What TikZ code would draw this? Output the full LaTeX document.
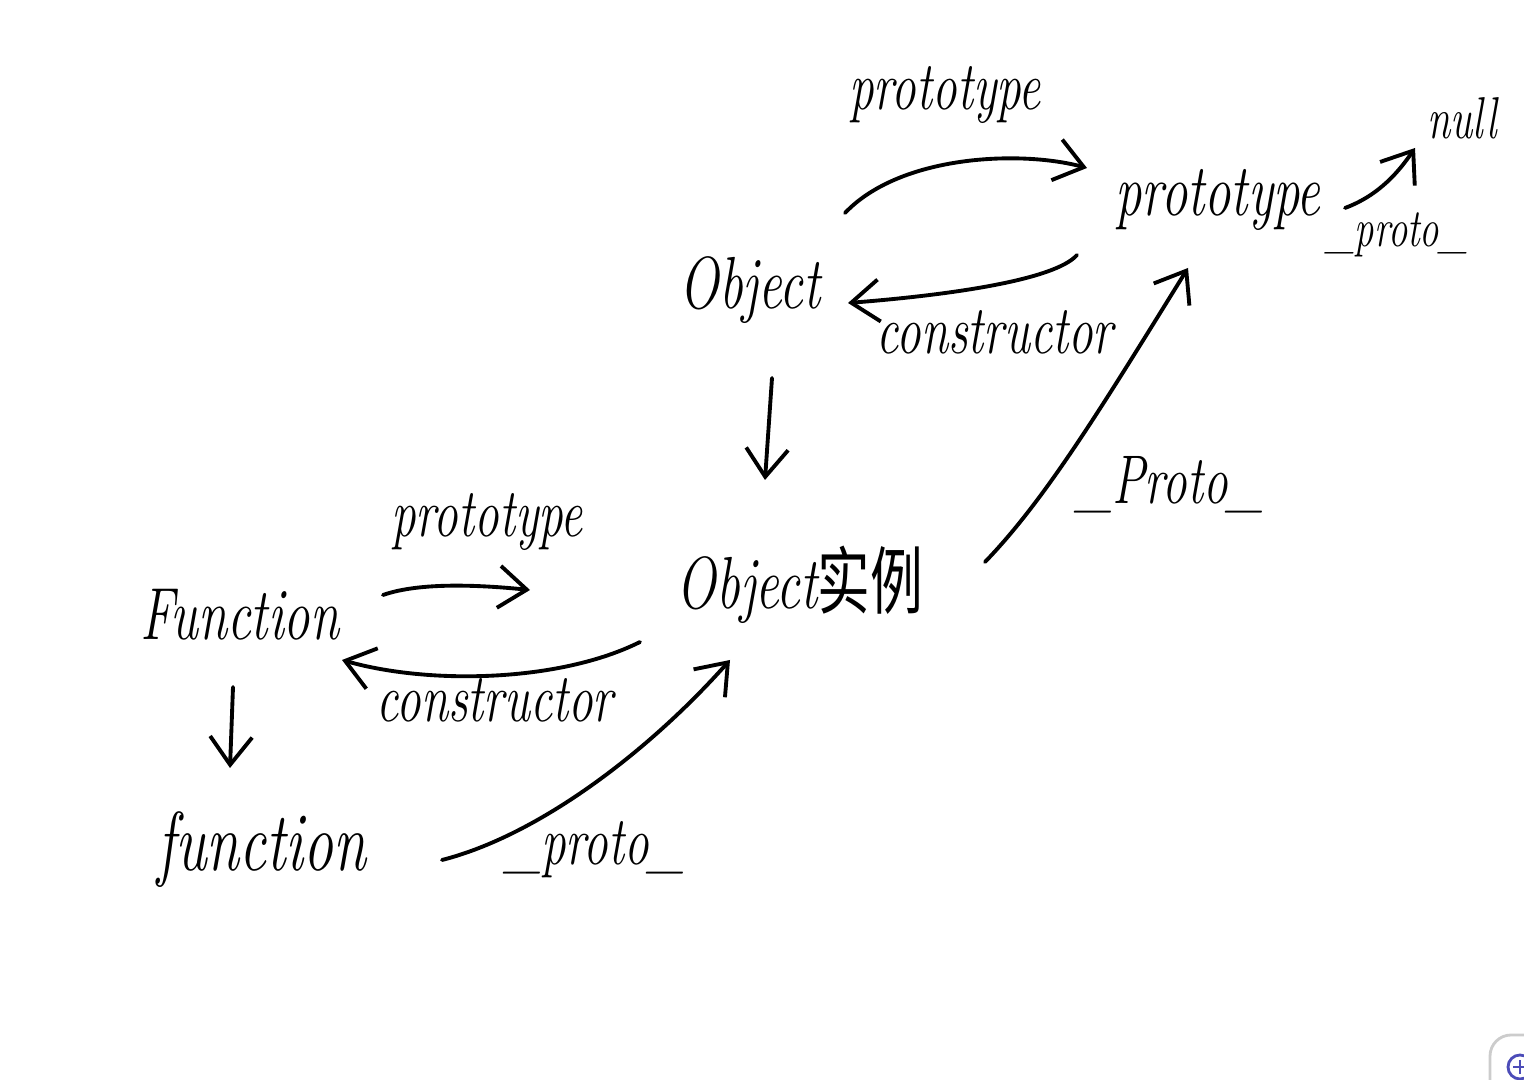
\documentclass[tikz,border=0pt]{standalone}
\usepackage{graphicx}
\usepackage{fontspec}
\newfontfamily\cjk{Noto Sans CJK SC}
\usetikzlibrary{arrows.meta,calc}
\tikzset{
  hw/.style={inner sep=1pt, font=\fontsize{15}{18}\selectfont\itshape},
  lbl/.style={inner sep=1pt, font=\fontsize{14}{17}\selectfont\itshape},
  link/.style={line width=1.1pt, line cap=round, line join=round,
    -{Straight Barb[length=2.8mm,width=4.2mm,line width=1.1pt]}},
}
\newcommand{\tall}[1]{\scalebox{1}[1.4]{#1}}
\begin{document}
\begin{tikzpicture}[x=1cm,y=1cm]
\useasboundingbox (0,0) rectangle (15.24,10.8);
\fill[white] (0,0) rectangle (15.24,10.8);
% nodes
\node[hw] (Object) at (7.50,7.90) {\tall{Object}};
\node[hw] (objproto) at (12.18,8.80) {\tall{prototype}};
\node[lbl, font=\fontsize{12}{14}\selectfont\itshape] (null) at (14.62,9.62) {\tall{null}};
\node[hw] (inst) at (8.00,4.95) {\tall{Object{\cjk\upshape 实例}}};
\node[hw] (Function) at (2.40,4.65) {\tall{Function}};
\node[hw, font=\fontsize{17}{20}\selectfont\itshape] (func) at (2.62,2.30) {\tall{function}};
% labels
\node[lbl] (l1) at (9.45,9.85) {\tall{prototype}};
\node[lbl] (l2) at (9.95,7.48) {\tall{constructor}};
\node[lbl, font=\fontsize{11}{13}\selectfont\itshape] (l3) at (13.97,8.45) {\tall{\_proto\_}};
\node[lbl] (l4) at (11.70,5.95) {\tall{\_Proto\_}};
\node[lbl] (l5) at (4.87,5.58) {\tall{prototype}};
\node[lbl] (l6) at (4.95,3.80) {\tall{constructor}};
\node[lbl] (l7) at (5.95,2.30) {\tall{\_proto\_}};
% connectors
\draw[link] ($(Object.center)+(0.95,0.77)$) .. controls (9.0,9.25) and (10.2,9.3) .. ($(objproto.center)+(-1.31,0.32)$);
\draw[link] ($(objproto.center)+(-1.41,-0.55)$) .. controls (10.55,8.0) and (9.5,7.85) .. ($(Object.center)+(0.98,-0.13)$);
\draw[link] ($(Object.center)+(0.22,-0.88)$) -- ($(inst.center)+(-0.35,1.05)$);
\draw[link] ($(inst.center)+(1.85,0.23)$) .. controls (10.45,5.8) and (11.0,6.7) .. ($(objproto.center)+(-0.30,-0.68)$);
\draw[link] ($(objproto.center)+(1.27,-0.08)$) .. controls (13.8,8.85) and (14.0,9.1) .. ($(null.center)+(-0.47,-0.30)$);
\draw[link] ($(Function.center)+(1.43,0.20)$) .. controls (4.2,4.98) and (4.8,4.95) .. ($(inst.center)+(-2.70,-0.05)$);
\draw[link] ($(inst.center)+(-1.60,-0.57)$) .. controls (5.6,3.98) and (4.3,3.95) .. ($(Function.center)+(1.02,-0.45)$);
\draw[link] ($(Function.center)+(-0.07,-0.72)$) -- ($(func.center)+(-0.32,0.82)$);
\draw[link] ($(func.center)+(1.80,-0.10)$) .. controls (5.4,2.45) and (6.5,3.3) .. ($(inst.center)+(-0.70,-0.75)$);
% corner widget of the screenshot
\draw[gray!40, line width=0.8pt, rounded corners=6pt] (14.9,-0.3) rectangle (15.6,0.45);
\draw[blue!60!black!70, line width=0.8pt] (15.2,0.13) circle (0.12);
\draw[blue!60!black!70, line width=0.8pt] (15.13,0.13) -- (15.27,0.13) (15.2,0.06) -- (15.2,0.2);
\end{tikzpicture}
\end{document}
